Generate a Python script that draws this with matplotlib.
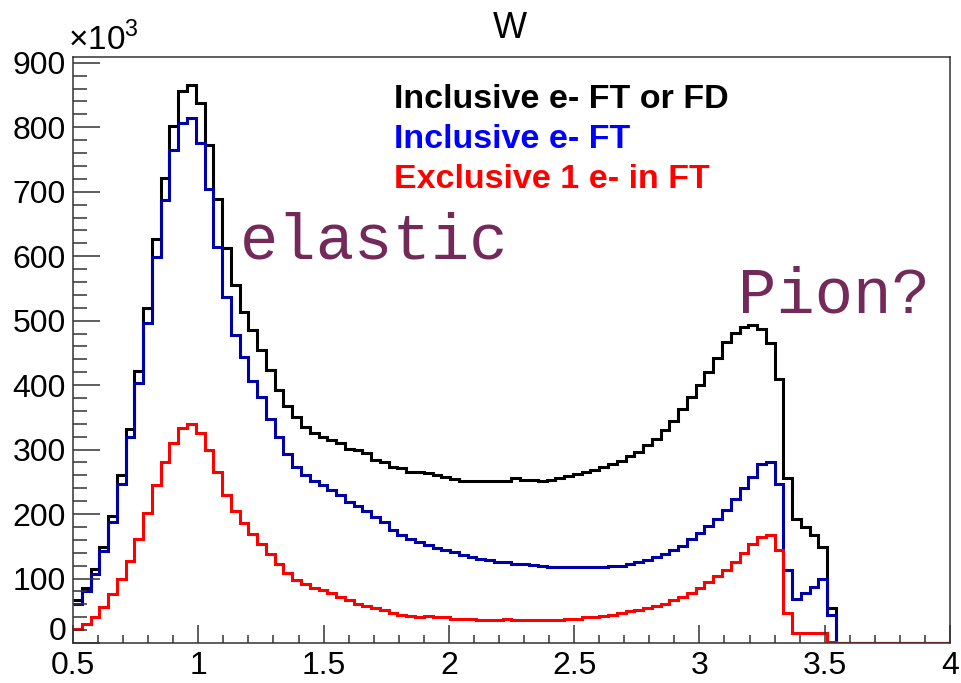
import matplotlib
import matplotlib.pyplot as plt
import numpy as np
from matplotlib.ticker import FuncFormatter, MultipleLocator

matplotlib.use("Agg")
plt.rcParams["font.family"] = ["Liberation Sans", "DejaVu Sans"]
plt.rcParams["mathtext.fontset"] = "custom"
plt.rcParams["mathtext.rm"] = "Liberation Sans"

# W histogram, 100 bins from 0.5 to 4 (counts in units of 10^3)
bin_edges = np.linspace(0.5, 4.0, 101)

incl_ft_or_fd = [
    66, 86, 115, 149, 197, 260, 332, 422, 519, 626,
    722, 802, 856, 866, 837, 772, 689, 613, 556, 513,
    485, 455, 424, 392, 368, 351, 335, 326, 320, 315,
    310, 301, 299, 294, 284, 280, 273, 271, 266, 265,
    264, 260, 258, 255, 252, 252, 252, 252, 251, 251,
    256, 253, 253, 251, 253, 256, 259, 262, 265, 269,
    273, 278, 283, 290, 296, 307, 317, 330, 345, 363,
    381, 400, 421, 442, 467, 481, 490, 494, 487, 465,
    409, 256, 193, 180, 167, 149, 55, 0, 0, 0,
    0, 0, 0, 0, 0, 0, 0, 0, 0, 0,
]
incl_ft = [
    61, 80, 107, 142, 187, 247, 319, 403, 497, 599,
    687, 765, 807, 815, 775, 705, 614, 536, 478, 443,
    407, 381, 348, 319, 293, 273, 260, 252, 245, 238,
    230, 219, 212, 205, 196, 188, 175, 167, 162, 157,
    152, 148, 144, 141, 137, 134, 131, 129, 126, 125,
    123, 122, 121, 120, 118, 118, 118, 118, 118, 118,
    118, 120, 120, 122, 126, 129, 134, 138, 144, 151,
    161, 170, 182, 193, 206, 223, 240, 257, 277, 281,
    247, 114, 69, 77, 87, 99, 43, 0, 0, 0,
    0, 0, 0, 0, 0, 0, 0, 0, 0, 0,
]
excl_1e_ft = [
    22, 30, 40, 56, 76, 99, 127, 162, 202, 245,
    280, 310, 333, 340, 326, 299, 265, 230, 205, 186,
    169, 154, 138, 122, 109, 98, 91, 86, 82, 78,
    72, 67, 61, 57, 54, 51, 47, 44, 42, 41,
    42, 41, 41, 38, 38, 38, 36, 36, 36, 38,
    36, 36, 36, 36, 36, 36, 38, 38, 40, 41,
    42, 44, 46, 49, 51, 54, 57, 61, 67, 72,
    78, 85, 94, 104, 114, 126, 139, 153, 165, 167,
    145, 47, 15, 15, 15, 15, 2, 0, 0, 0,
    0, 0, 0, 0, 0, 0, 0, 0, 0, 0,
]

labels = ["Inclusive e- FT or FD", "Inclusive e- FT", "Exclusive 1 e- in FT"]
label_colors = ["black", "#0000ff", "#ff0000"]
line_colors = ["black", "#0000a8", "#ff0000"]

W, H = 961, 683


def fpos(x, y):
    # pixel position -> figure fraction
    return x / W, 1 - y / H


fig = plt.figure(figsize=(W / 100, H / 100), dpi=100)
ax = fig.add_axes([73 / W, 1 - 643 / H, (950 - 73) / W, (643 - 57) / H])

for vals, col in zip([incl_ft_or_fd, incl_ft, excl_1e_ft], line_colors):
    ax.stairs(vals, bin_edges, color=col, lw=2.2, baseline=None)

ax.set_xlim(0.5, 4.0)
ax.set_ylim(0, 909)
ax.xaxis.set_major_locator(MultipleLocator(0.5))
ax.xaxis.set_minor_locator(MultipleLocator(0.1))
ax.yaxis.set_major_locator(MultipleLocator(100))
ax.yaxis.set_minor_locator(MultipleLocator(20))
ax.xaxis.set_major_formatter(FuncFormatter(lambda v, p: f"{v:g}"))
# "0" on the y axis is drawn by hand below, a little raised off "0.5"
ax.yaxis.set_major_formatter(FuncFormatter(lambda v, p: f"{v:.0f}" if v > 0 else ""))

ax.tick_params(which="both", direction="in", top=False, right=False,
               labelsize=23, width=1.1, color="#333333")
ax.tick_params(axis="x", which="major", length=12.7, pad=6)
ax.tick_params(axis="x", which="minor", length=6)
ax.tick_params(axis="y", which="major", length=19.4, pad=5)
ax.tick_params(axis="y", which="minor", length=10)
for sp in ax.spines.values():
    sp.set_linewidth(1.1)
    sp.set_color("#333333")

fig.text(*fpos(66, 632), "0", ha="right", va="center", fontsize=23)

fig.text(*fpos(510, 28), "W", ha="center", va="center", fontsize=26)
fig.text(*fpos(68, 50), r"$\times10^{3}$", ha="left", va="baseline", fontsize=24)

for i, (lab, col) in enumerate(zip(labels, label_colors)):
    fig.text(*fpos(394, 99 + 40 * i), lab, color=col, fontsize=24.5,
             fontweight="bold", ha="left", va="center")

mono = ["Liberation Mono", "DejaVu Sans Mono"]
fig.text(*fpos(240, 258), "elastic", family=mono, fontsize=46,
         color="#732a5a", ha="left", va="baseline")
fig.text(*fpos(738, 313), "Pion?", family=mono, fontsize=46,
         color="#732a5a", ha="left", va="baseline")

fig.savefig("out.png", dpi=100)
